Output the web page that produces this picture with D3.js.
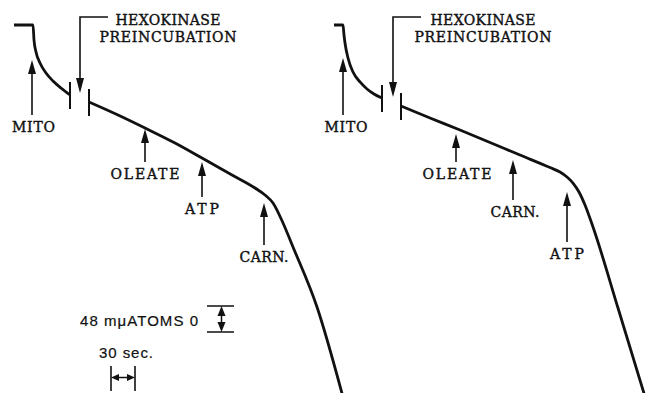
<!DOCTYPE html>
<html>
<head>
<meta charset="utf-8">
<script src="https://cdn.jsdelivr.net/npm/d3@7"></script>
<style>
  html, body { margin: 0; padding: 0; background: #fff; }
  svg { display: block; }
</style>
</head>
<body>
<svg id="chart" width="646" height="393"></svg>
<script>
// Oxygen electrode recordings: O2 consumed (mµatoms O) against time (seconds).
// Each trace is split by the hexokinase preincubation gap.

// Left recording: oleate, then ATP, then carnitine
const leftBeforeHexokinase = [
  [0, 0], [23.75, 0], [25, 27.7], [27.5, 49.8], [32.5, 70.2],
  [40, 88.6], [48.75, 103.4], [58.75, 116.3], [70, 129.2]
];
const leftAfterHexokinase = [
  [93.75, 142.1], [130, 166.1], [163.75, 190.1], [201.25, 217.8],
  [235, 245.5], [272.5, 276.9], [301.25, 300.9], [313.75, 313.8],
  [323.75, 328.6], [336.25, 365.5], [348.75, 409.8], [378.75, 520.6],
  [410, 680]
];
const leftAdditionLabels = ["MITO", "OLEATE", "ATP", "CARN."];
const leftAdditionTimes = [22.5, 163.75, 235, 312.5];
const leftHexokinaseTime = 82.5;

// Right recording: oleate, then carnitine, then ATP
const rightBeforeHexokinase = [
  [0, 0], [11.25, 0], [12.5, 18.5], [13.75, 33.2], [17.5, 60.9],
  [23.75, 86.8], [32.5, 105.2], [41.25, 118.1], [50, 127.4], [60, 134.8]
];
const rightAfterHexokinase = [
  [83.75, 149.5], [120, 171.7], [157.5, 193.8], [195, 216.9],
  [232.5, 240.1], [270, 263.2], [282.5, 271.4], [291.25, 280.6],
  [298.75, 291.7], [306.25, 308.3], [313.75, 332.3], [323.75, 372.9],
  [355, 522.5], [387.5, 680]
];
const rightAdditionLabels = ["MITO", "OLEATE", "CARN.", "ATP"];
const rightAdditionTimes = [11.25, 152.5, 223.75, 291.25];
const rightHexokinaseTime = 73.75;

// Calibration bars
const oxygenBarValue = 48;   // mµatoms O
const timeBarValue = 30;     // seconds
const oxygenBarLabel = "48 mμATOMS 0";
const timeBarLabel = "30 sec.";
const hexokinaseLines = ["HEXOKINASE", "PREINCUBATION"];

// ---- layout (pixels) ----
const labelWidth = {
  "MITO": 43, "OLEATE": 69, "ATP": 34, "CARN.": 49,
  "HEXOKINASE": 105, "PREINCUBATION": 137
};

const panels = [
  {
    segments: [leftBeforeHexokinase, leftAfterHexokinase],
    labels: leftAdditionLabels, times: leftAdditionTimes,
    hexTime: leftHexokinaseTime,
    xRange: [14, 342], xDomain: [0, 410],
    arrows: [ {tip: 60, tail: 115, dx: 1.5}, {tip: 129, tail: 162, dx: 0},
              {tip: 162, tail: 197, dx: 0}, {tip: 203, tail: 245, dx: 0} ],
    hexTip: 93, hexText: 168
  },
  {
    segments: [rightBeforeHexokinase, rightAfterHexokinase],
    labels: rightAdditionLabels, times: rightAdditionTimes,
    hexTime: rightHexokinaseTime,
    xRange: [334, 644], xDomain: [0, 387.5],
    arrows: [ {tip: 58, tail: 115, dx: 3}, {tip: 134, tail: 162, dx: 1},
              {tip: 160, tail: 200, dx: 2}, {tip: 192, tail: 242, dx: 0} ],
    hexTip: 97, hexText: 483
  }
];

const svg = d3.select("#chart");
const ink = "#111";
const serif = "'DejaVu Serif', 'Liberation Serif', serif";
const sans = "'Liberation Sans', Arial, sans-serif";

// Common vertical scale: 48 mµatoms O span 26 px on both recordings
const y = d3.scaleLinear().domain([0, 680]).range([25, 25 + 680 * 26 / 48]);

const line = d3.line().curve(d3.curveMonotoneX);

function upArrow(g, x, yTip, yTail, headLen = 14, hw = 4) {
  g.append("line").attr("x1", x).attr("x2", x)
    .attr("y1", yTip + headLen - 1).attr("y2", yTail)
    .attr("stroke", ink).attr("stroke-width", 1.6);
  g.append("path")
    .attr("d", `M${x},${yTip}L${x - hw},${yTip + headLen}L${x + hw},${yTip + headLen}Z`)
    .attr("fill", ink);
}

function serifLabel(g, txt, x, yy) {
  g.append("text").text(txt)
    .attr("x", x).attr("y", yy)
    .attr("text-anchor", "middle")
    .attr("font-family", serif).attr("font-size", 14)
    .attr("textLength", labelWidth[txt]).attr("lengthAdjust", "spacing")
    .attr("stroke", ink).attr("stroke-width", 0.4)
    .attr("fill", ink);
}

panels.forEach(p => {
  const x = d3.scaleLinear().domain(p.xDomain).range(p.xRange);
  const g = svg.append("g");
  line.x(d => x(d[0])).y(d => y(d[1]));

  // Trace segments
  p.segments.forEach(seg => {
    g.append("path").attr("d", line(seg))
      .attr("fill", "none").attr("stroke", ink)
      .attr("stroke-width", 2.8).attr("stroke-linejoin", "round");
  });

  // Interruption marks at the end of the first segment and start of the second
  const endA = p.segments[0][p.segments[0].length - 1];
  const startB = p.segments[1][0];
  [endA, startB].forEach(pt => {
    g.append("line")
      .attr("x1", x(pt[0])).attr("x2", x(pt[0]))
      .attr("y1", y(pt[1]) - 13).attr("y2", y(pt[1]) + 14)
      .attr("stroke", ink).attr("stroke-width", 2);
  });

  // Hexokinase preincubation pointer
  const hx = x(p.hexTime);
  g.append("path")
    .attr("d", `M${hx + 28},17H${hx}V${p.hexTip - 13}`)
    .attr("fill", "none").attr("stroke", ink).attr("stroke-width", 1.6);
  g.append("path")
    .attr("d", `M${hx},${p.hexTip}L${hx - 4},${p.hexTip - 15}L${hx + 4},${p.hexTip - 15}Z`)
    .attr("fill", ink);
  hexokinaseLines.forEach((t, i) => serifLabel(g, t, p.hexText, 25 + i * 17));

  // Addition arrows and labels
  p.labels.forEach((lab, i) => {
    const ax = x(p.times[i]);
    const a = p.arrows[i];
    upArrow(g, ax, a.tip, a.tail);
    serifLabel(g, lab, ax + a.dx, a.tail + 16.5);
  });

  p.x = x;
});

// Calibration bars (left recording scales)
const xl = panels[0].x;
const cal = svg.append("g");

// Oxygen bar
const oy0 = 306, oy1 = oy0 + (y(oxygenBarValue) - y(0));
const ox = 221.5;
[oy0, oy1].forEach(yy => {
  cal.append("line").attr("x1", 207).attr("x2", 234).attr("y1", yy).attr("y2", yy)
    .attr("stroke", ink).attr("stroke-width", 1.5);
});
cal.append("line").attr("x1", ox).attr("x2", ox).attr("y1", oy0 + 6).attr("y2", oy1 - 6)
  .attr("stroke", ink).attr("stroke-width", 1.5);
cal.append("path").attr("d", `M${ox},${oy0}L${ox - 4},${oy0 + 10}L${ox + 4},${oy0 + 10}Z`).attr("fill", ink);
cal.append("path").attr("d", `M${ox},${oy1}L${ox - 4},${oy1 - 10}L${ox + 4},${oy1 - 10}Z`).attr("fill", ink);
cal.append("text").text(oxygenBarLabel)
  .attr("x", 198).attr("y", 326).attr("text-anchor", "end")
  .attr("font-family", sans).attr("font-size", 15)
  .attr("textLength", 118).attr("lengthAdjust", "spacing")
  .attr("stroke", ink).attr("stroke-width", 0.2)
  .attr("fill", ink);

// Time bar
const tx0 = 111, tx1 = tx0 + (xl(timeBarValue) - xl(0));
const ty = 377.5;
[tx0, tx1].forEach(xx => {
  cal.append("line").attr("x1", xx).attr("x2", xx).attr("y1", 366).attr("y2", 391)
    .attr("stroke", ink).attr("stroke-width", 1.6);
});
cal.append("line").attr("x1", tx0 + 5).attr("x2", tx1 - 5).attr("y1", ty).attr("y2", ty)
  .attr("stroke", ink).attr("stroke-width", 1.5);
cal.append("path").attr("d", `M${tx0},${ty}L${tx0 + 8},${ty - 3.5}L${tx0 + 8},${ty + 3.5}Z`).attr("fill", ink);
cal.append("path").attr("d", `M${tx1},${ty}L${tx1 - 8},${ty - 3.5}L${tx1 - 8},${ty + 3.5}Z`).attr("fill", ink);
cal.append("text").text(timeBarLabel)
  .attr("x", 99).attr("y", 358)
  .attr("font-family", sans).attr("font-size", 15)
  .attr("textLength", 54).attr("lengthAdjust", "spacing")
  .attr("stroke", ink).attr("stroke-width", 0.2)
  .attr("fill", ink);
</script>
</body>
</html>
